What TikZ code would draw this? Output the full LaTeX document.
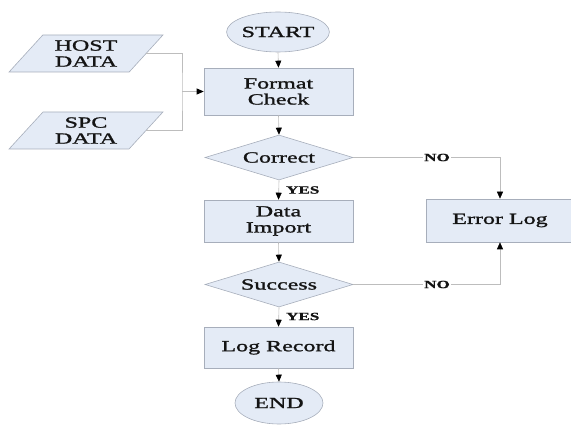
\documentclass[tikz,border=0pt]{standalone}
\usepackage{fontspec}
\setmainfont{Liberation Serif}[FakeStretch=1.55,FakeBold=1.3]
\usetikzlibrary{shapes.geometric,arrows.meta}
\definecolor{boxfill}{HTML}{E4EBF6}
\definecolor{boxline}{HTML}{A7AEBB}
\definecolor{conline}{HTML}{BDBDBD}
\definecolor{txt}{HTML}{141414}
\tikzset{
  base/.style={draw=boxline, fill=boxfill, line width=0.6pt, text=txt, inner sep=0pt, align=center, font=\fontsize{15.5}{16}\selectfont},
  procbox/.style={base, rectangle, minimum width=149pt},
  term/.style={base, ellipse},
  decide/.style={base, diamond, minimum width=148pt, minimum height=45pt, aspect=3.3},
  datain/.style={base, trapezium, trapezium left angle=47, trapezium right angle=133, trapezium stretches=true, minimum width=154pt, minimum height=37pt},
  conn/.style={draw=conline, line width=0.6pt},
  arr/.style={conn, -{Triangle[length=7pt,width=6pt,color=black]}},
  lbl/.style={text=txt, inner sep=1pt, font=\fontsize{11}{12}\selectfont\bfseries},
}
\begin{document}
\begin{tikzpicture}[x=1pt,y=-1pt]
\useasboundingbox (0,0) rectangle (571,425);
\node[term, minimum width=86pt, minimum height=40pt] (start) at (278,32) {START};
\node[procbox, minimum height=47pt] (fmt) at (278.5,91.5) {Format\\Check};
\node[datain] (host) at (86,53.5) {HOST\\DATA};
\node[datain] (spc) at (86,130.5) {SPC\\DATA};
\coordinate (jn) at (182,91.5);
\node[decide] (correct) at (279,157.5) {Correct};
\node[procbox, minimum height=42pt] (import) at (278.5,221) {Data\\Import};
\node[procbox, minimum height=43pt, minimum width=148pt] (err) at (500,220.5) {Error Log};
\node[decide] (success) at (279,284.5) {Success};
\node[procbox, minimum height=41pt] (logrec) at (278.5,347.5) {Log Record};
\node[term, minimum width=88pt, minimum height=42pt] (end) at (279,403) {END};

\draw[conn] (host.right side) -| (jn) |- (spc.right side);
\draw[arr] (jn) -- (fmt.west);
\draw[arr] (start.south) -- (fmt.north);
\draw[arr] (fmt.south) -- (correct.north);
\draw[arr] (correct.south) -- (import.north);
\draw[arr] (import.south) -- (success.north);
\draw[arr] (success.south) -- (logrec.north);
\draw[arr] (logrec.south) -- (end.north);
\draw[arr] (correct.east) -| (err.north);
\draw[arr] (success.east) -| (err.south);
\node[lbl, fill=white] (no1) at (437,157.5) {NO};
\node[lbl, fill=white] (no2) at (437,284.5) {NO};
\node[lbl, anchor=west] (yes1) at (285,190) {YES};
\node[lbl, anchor=west] (yes2) at (285,316.5) {YES};
\end{tikzpicture}
\end{document}
